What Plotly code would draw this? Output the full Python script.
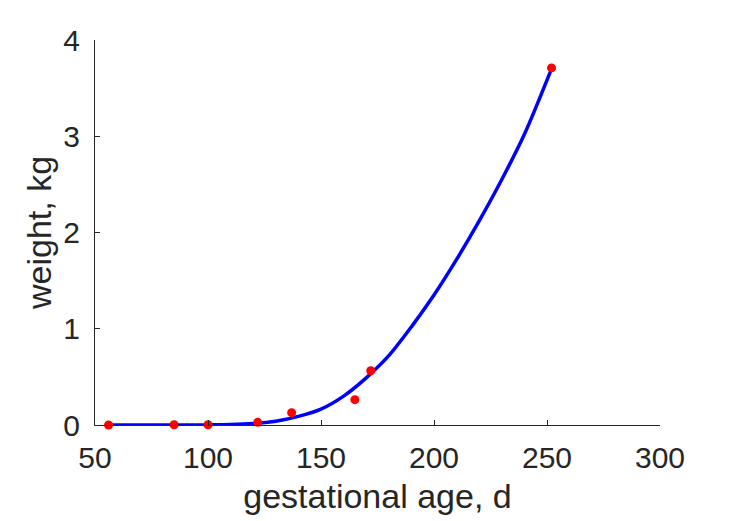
import plotly.graph_objects as go

# measured data points (gestational age in days, weight in kg)
age_pts = [56, 85, 100, 122, 137, 165, 172, 252]
weight_pts = [0.0, 0.003, 0.003, 0.028, 0.128, 0.263, 0.564, 3.71]

# fitted curve
age_fit = [56, 70, 80, 90, 100, 110, 120, 130, 140, 150, 160, 170, 180, 190, 200,
           210, 220, 230, 240, 252]
weight_fit = [0.0, 0.0, 0.0, 0.0, 0.001, 0.004, 0.015, 0.04, 0.09, 0.165, 0.30, 0.49,
              0.72, 1.02, 1.35, 1.72, 2.12, 2.55, 3.02, 3.70]

x_ticks = [50, 100, 150, 200, 250, 300]
y_ticks = [0, 1, 2, 3, 4]

FONT = "Liberation Sans, Arial, Helvetica, sans-serif"
AX = "#262626"
FS_TICK = 30
FS_TITLE = 34

fig = go.Figure()
fig.add_trace(go.Scatter(x=age_fit, y=weight_fit, mode="lines",
                         line=dict(color="#0000ff", width=3.5, shape="spline", smoothing=0.8),
                         cliponaxis=False, showlegend=False))
fig.add_trace(go.Scatter(x=age_pts, y=weight_pts, mode="markers",
                         marker=dict(color="#ff0000", size=9),
                         cliponaxis=False, showlegend=False))

# the page body has an 8 px default margin, so the figure is shifted by 8 px
fig.update_layout(
    width=721, height=513,
    margin=dict(l=86.5, r=68.7, t=31.7, b=96),
    plot_bgcolor="white", paper_bgcolor="white",
    font=dict(family=FONT, color=AX, size=FS_TICK),
    xaxis=dict(range=[50, 300], tickvals=x_ticks, ticktext=[str(v) for v in x_ticks],
               showgrid=False, zeroline=False, showline=True, linecolor=AX, linewidth=1,
               ticks="inside", ticklen=5, tickcolor=AX, tickwidth=1,
               tickfont=dict(family=FONT, size=FS_TICK, color=AX),
               ticklabelstandoff=6, automargin=False,
               title=dict(text="gestational age, d", standoff=11,
                          font=dict(family=FONT, size=FS_TITLE, color=AX))),
    yaxis=dict(range=[0, 4], tickvals=y_ticks, ticktext=[str(v) for v in y_ticks],
               showgrid=False, zeroline=False, showline=True, linecolor=AX, linewidth=1,
               ticks="inside", ticklen=5, tickcolor=AX, tickwidth=1,
               tickfont=dict(family=FONT, size=FS_TICK, color=AX),
               ticklabelstandoff=8, automargin=False,
               title=dict(text="weight, kg", standoff=1,
                          font=dict(family=FONT, size=FS_TITLE, color=AX))),
)

fig.write_html("out.html")
